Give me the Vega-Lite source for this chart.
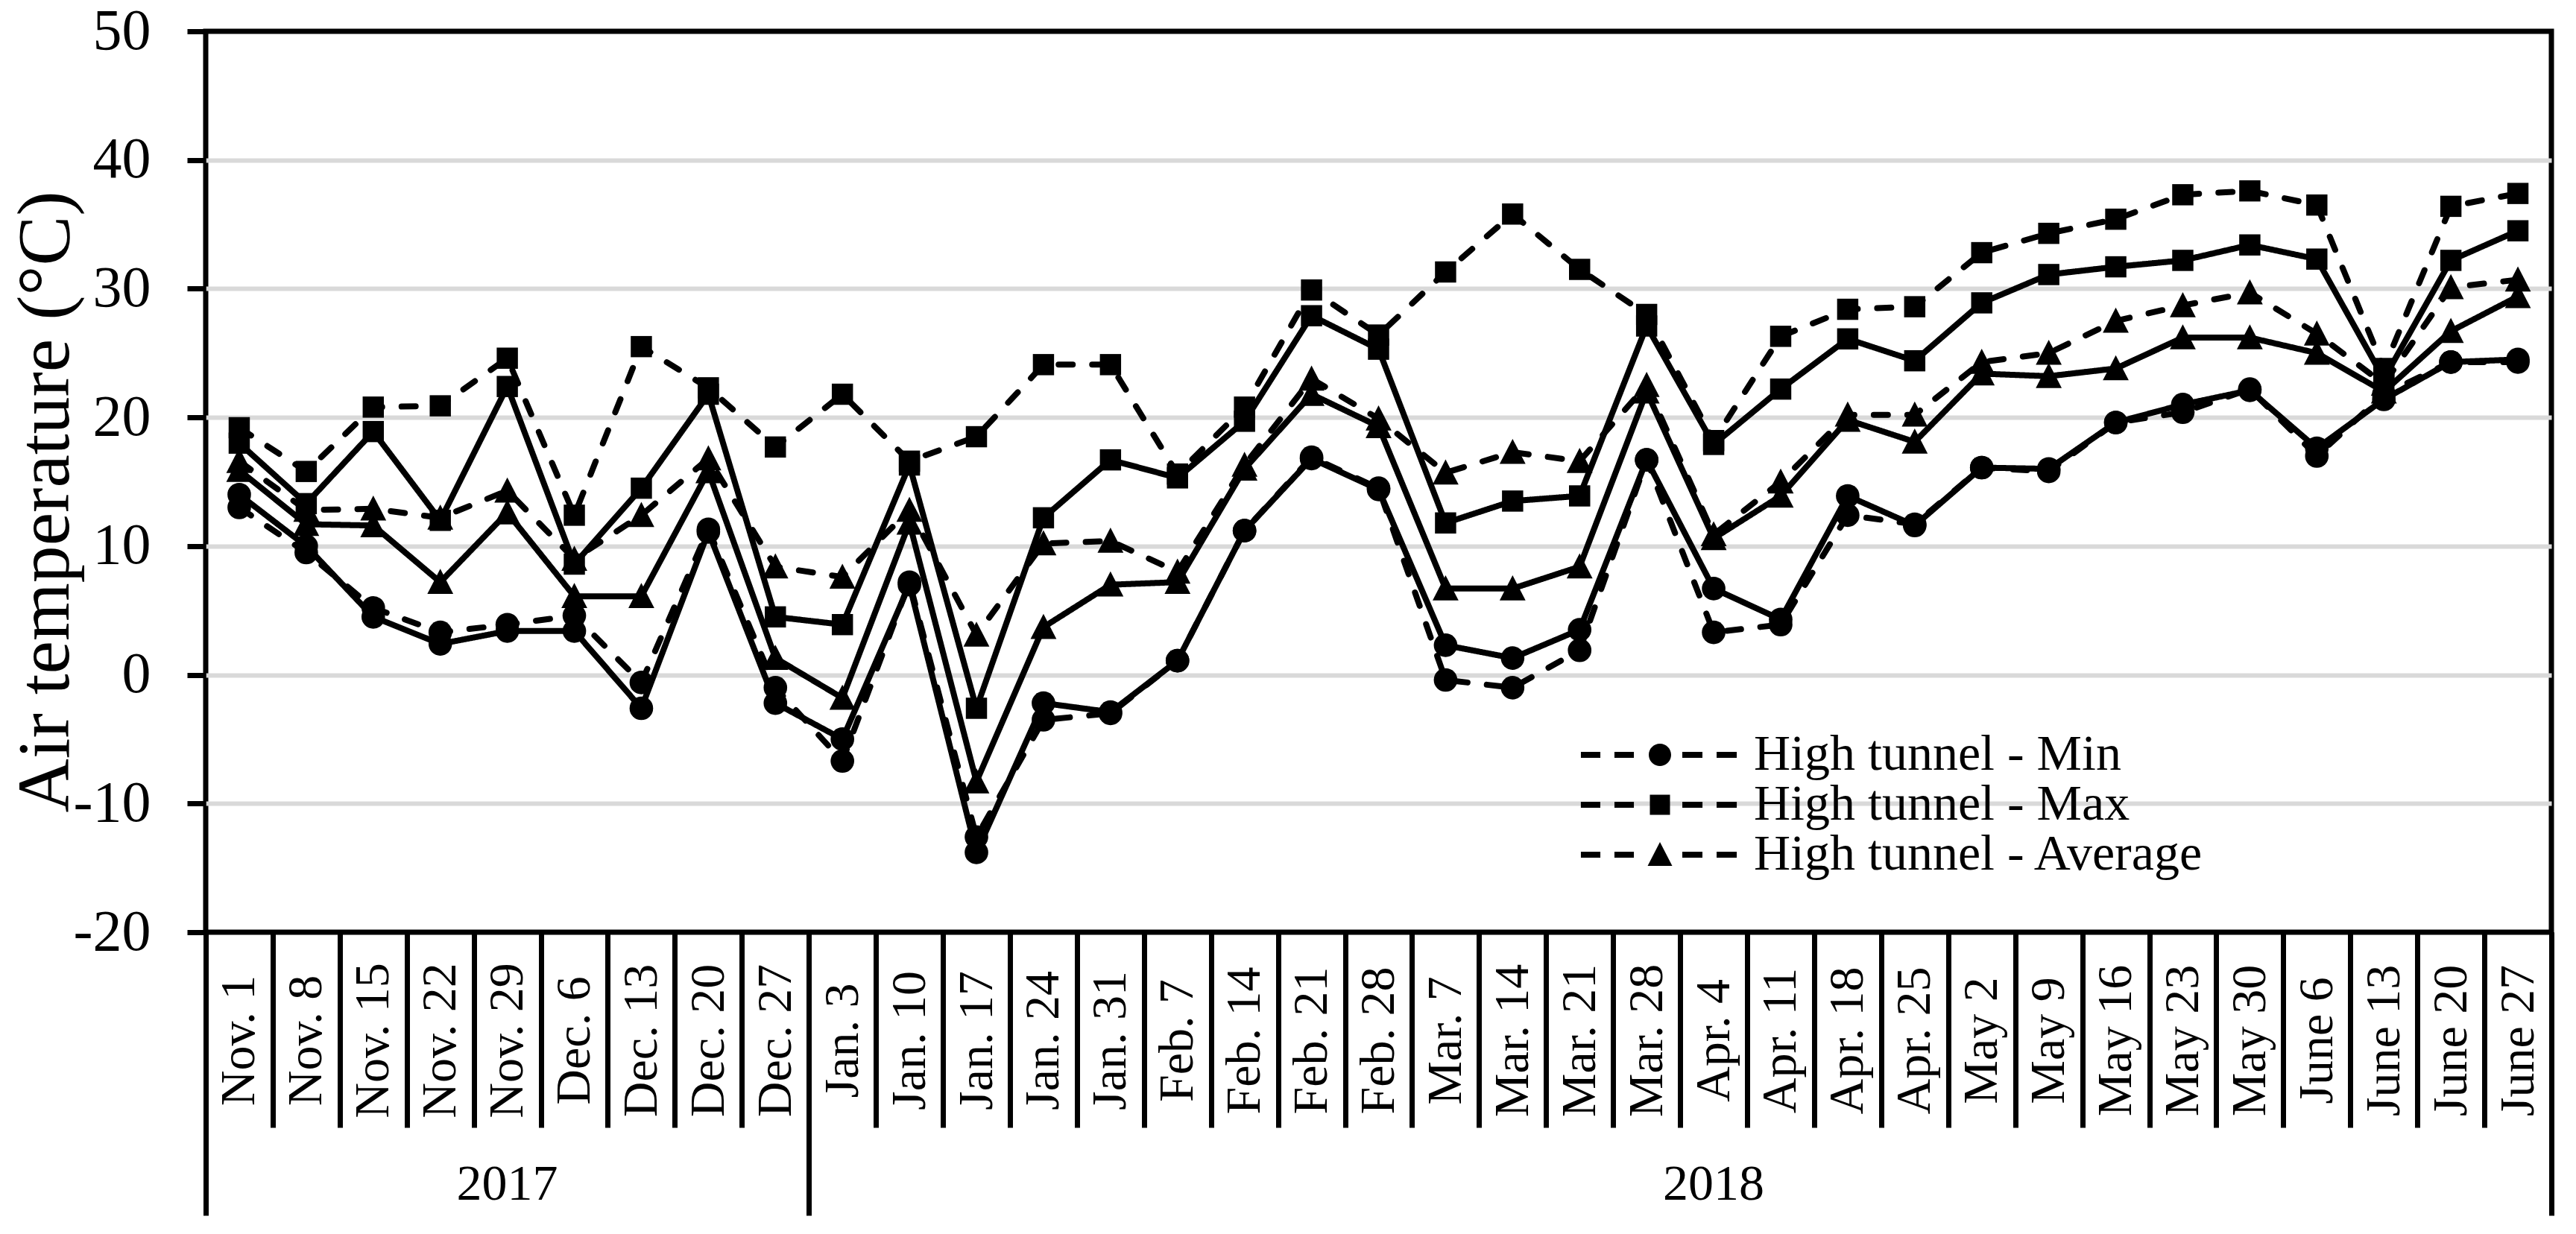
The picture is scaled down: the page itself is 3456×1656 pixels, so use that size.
{
  "$schema": "https://vega.github.io/schema/vega-lite/v6.json",
  "autosize": {"type": "none"},
  "padding": {"left": 276, "top": 42, "right": 33, "bottom": 405},
  "width": 3147,
  "height": 1209,
  "background": "white",
  "config": {
    "font": "Liberation Serif",
    "view": {"stroke": "black", "strokeWidth": 7},
    "axis": {"labelColor": "black", "titleColor": "black", "labelFont": "Liberation Serif", "titleFont": "Liberation Serif", "labelLimit": 2000},
    "legend": {"labelLimit": 2000, "orient": "none", "title": null, "padding": 0, "symbolSize": 900, "symbolStrokeWidth": 0, "symbolFillColor": "black", "labelFont": "Liberation Serif", "labelFontSize": 68, "labelColor": "black", "labelOffset": 92}
  },
  "data": {"values": [
    {"week":"Nov. 1","series":"High tunnel - Min","temp":13.0},{"week":"Nov. 1","series":"High tunnel - Max","temp":19.2},{"week":"Nov. 1","series":"High tunnel - Average","temp":16.6},{"week":"Nov. 1","series":"Open field - Min","temp":14.0},{"week":"Nov. 1","series":"Open field - Max","temp":18.0},{"week":"Nov. 1","series":"Open field - Average","temp":15.9},
    {"week":"Nov. 8","series":"High tunnel - Min","temp":9.5},{"week":"Nov. 8","series":"High tunnel - Max","temp":15.8},{"week":"Nov. 8","series":"High tunnel - Average","temp":12.8},{"week":"Nov. 8","series":"Open field - Min","temp":10.0},{"week":"Nov. 8","series":"Open field - Max","temp":13.3},{"week":"Nov. 8","series":"Open field - Average","temp":11.7},
    {"week":"Nov. 15","series":"High tunnel - Min","temp":5.2},{"week":"Nov. 15","series":"High tunnel - Max","temp":20.8},{"week":"Nov. 15","series":"High tunnel - Average","temp":12.9},{"week":"Nov. 15","series":"Open field - Min","temp":4.5},{"week":"Nov. 15","series":"Open field - Max","temp":18.9},{"week":"Nov. 15","series":"Open field - Average","temp":11.6},
    {"week":"Nov. 22","series":"High tunnel - Min","temp":3.3},{"week":"Nov. 22","series":"High tunnel - Max","temp":20.9},{"week":"Nov. 22","series":"High tunnel - Average","temp":12.2},{"week":"Nov. 22","series":"Open field - Min","temp":2.4},{"week":"Nov. 22","series":"Open field - Max","temp":12.0},{"week":"Nov. 22","series":"Open field - Average","temp":7.2},
    {"week":"Nov. 29","series":"High tunnel - Min","temp":3.9},{"week":"Nov. 29","series":"High tunnel - Max","temp":24.6},{"week":"Nov. 29","series":"High tunnel - Average","temp":14.3},{"week":"Nov. 29","series":"Open field - Min","temp":3.4},{"week":"Nov. 29","series":"Open field - Max","temp":22.4},{"week":"Nov. 29","series":"Open field - Average","temp":12.6},
    {"week":"Dec. 6","series":"High tunnel - Min","temp":4.6},{"week":"Dec. 6","series":"High tunnel - Max","temp":12.4},{"week":"Dec. 6","series":"High tunnel - Average","temp":9.0},{"week":"Dec. 6","series":"Open field - Min","temp":3.4},{"week":"Dec. 6","series":"Open field - Max","temp":8.6},{"week":"Dec. 6","series":"Open field - Average","temp":6.1},
    {"week":"Dec. 13","series":"High tunnel - Min","temp":-0.6},{"week":"Dec. 13","series":"High tunnel - Max","temp":25.5},{"week":"Dec. 13","series":"High tunnel - Average","temp":12.4},{"week":"Dec. 13","series":"Open field - Min","temp":-2.6},{"week":"Dec. 13","series":"Open field - Max","temp":14.5},{"week":"Dec. 13","series":"Open field - Average","temp":6.1},
    {"week":"Dec. 20","series":"High tunnel - Min","temp":11.3},{"week":"Dec. 20","series":"High tunnel - Max","temp":22.3},{"week":"Dec. 20","series":"High tunnel - Average","temp":16.8},{"week":"Dec. 20","series":"Open field - Min","temp":11.1},{"week":"Dec. 20","series":"Open field - Max","temp":21.8},{"week":"Dec. 20","series":"Open field - Average","temp":15.8},
    {"week":"Dec. 27","series":"High tunnel - Min","temp":-1.0},{"week":"Dec. 27","series":"High tunnel - Max","temp":17.7},{"week":"Dec. 27","series":"High tunnel - Average","temp":8.4},{"week":"Dec. 27","series":"Open field - Min","temp":-2.2},{"week":"Dec. 27","series":"Open field - Max","temp":4.5},{"week":"Dec. 27","series":"Open field - Average","temp":1.3},
    {"week":"Jan. 3","series":"High tunnel - Min","temp":-6.7},{"week":"Jan. 3","series":"High tunnel - Max","temp":21.8},{"week":"Jan. 3","series":"High tunnel - Average","temp":7.6},{"week":"Jan. 3","series":"Open field - Min","temp":-5.0},{"week":"Jan. 3","series":"Open field - Max","temp":3.9},{"week":"Jan. 3","series":"Open field - Average","temp":-1.8},
    {"week":"Jan. 10","series":"High tunnel - Min","temp":7.2},{"week":"Jan. 10","series":"High tunnel - Max","temp":16.6},{"week":"Jan. 10","series":"High tunnel - Average","temp":12.8},{"week":"Jan. 10","series":"Open field - Min","temp":7.0},{"week":"Jan. 10","series":"Open field - Max","temp":16.3},{"week":"Jan. 10","series":"Open field - Average","temp":11.8},
    {"week":"Jan. 17","series":"High tunnel - Min","temp":-12.6},{"week":"Jan. 17","series":"High tunnel - Max","temp":18.5},{"week":"Jan. 17","series":"High tunnel - Average","temp":3.1},{"week":"Jan. 17","series":"Open field - Min","temp":-13.8},{"week":"Jan. 17","series":"Open field - Max","temp":-2.6},{"week":"Jan. 17","series":"Open field - Average","temp":-8.3},
    {"week":"Jan. 24","series":"High tunnel - Min","temp":-3.5},{"week":"Jan. 24","series":"High tunnel - Max","temp":24.1},{"week":"Jan. 24","series":"High tunnel - Average","temp":10.2},{"week":"Jan. 24","series":"Open field - Min","temp":-2.2},{"week":"Jan. 24","series":"Open field - Max","temp":12.2},{"week":"Jan. 24","series":"Open field - Average","temp":3.7},
    {"week":"Jan. 31","series":"High tunnel - Min","temp":-3.0},{"week":"Jan. 31","series":"High tunnel - Max","temp":24.1},{"week":"Jan. 31","series":"High tunnel - Average","temp":10.4},{"week":"Jan. 31","series":"Open field - Min","temp":-2.9},{"week":"Jan. 31","series":"Open field - Max","temp":16.7},{"week":"Jan. 31","series":"Open field - Average","temp":7.0},
    {"week":"Feb. 7","series":"High tunnel - Min","temp":1.1},{"week":"Feb. 7","series":"High tunnel - Max","temp":15.6},{"week":"Feb. 7","series":"High tunnel - Average","temp":8.0},{"week":"Feb. 7","series":"Open field - Min","temp":1.1},{"week":"Feb. 7","series":"Open field - Max","temp":15.3},{"week":"Feb. 7","series":"Open field - Average","temp":7.2},
    {"week":"Feb. 14","series":"High tunnel - Min","temp":11.2},{"week":"Feb. 14","series":"High tunnel - Max","temp":20.8},{"week":"Feb. 14","series":"High tunnel - Average","temp":16.3},{"week":"Feb. 14","series":"Open field - Min","temp":11.2},{"week":"Feb. 14","series":"Open field - Max","temp":19.7},{"week":"Feb. 14","series":"Open field - Average","temp":16.0},
    {"week":"Feb. 21","series":"High tunnel - Min","temp":16.9},{"week":"Feb. 21","series":"High tunnel - Max","temp":29.9},{"week":"Feb. 21","series":"High tunnel - Average","temp":23.0},{"week":"Feb. 21","series":"Open field - Min","temp":16.8},{"week":"Feb. 21","series":"Open field - Max","temp":27.9},{"week":"Feb. 21","series":"Open field - Average","temp":21.8},
    {"week":"Feb. 28","series":"High tunnel - Min","temp":14.5},{"week":"Feb. 28","series":"High tunnel - Max","temp":26.4},{"week":"Feb. 28","series":"High tunnel - Average","temp":19.9},{"week":"Feb. 28","series":"Open field - Min","temp":14.4},{"week":"Feb. 28","series":"Open field - Max","temp":25.3},{"week":"Feb. 28","series":"Open field - Average","temp":19.3},
    {"week":"Mar. 7","series":"High tunnel - Min","temp":-0.4},{"week":"Mar. 7","series":"High tunnel - Max","temp":31.3},{"week":"Mar. 7","series":"High tunnel - Average","temp":15.7},{"week":"Mar. 7","series":"Open field - Min","temp":2.3},{"week":"Mar. 7","series":"Open field - Max","temp":11.8},{"week":"Mar. 7","series":"Open field - Average","temp":6.7},
    {"week":"Mar. 14","series":"High tunnel - Min","temp":-1.0},{"week":"Mar. 14","series":"High tunnel - Max","temp":35.8},{"week":"Mar. 14","series":"High tunnel - Average","temp":17.3},{"week":"Mar. 14","series":"Open field - Min","temp":1.3},{"week":"Mar. 14","series":"Open field - Max","temp":13.5},{"week":"Mar. 14","series":"Open field - Average","temp":6.7},
    {"week":"Mar. 21","series":"High tunnel - Min","temp":1.9},{"week":"Mar. 21","series":"High tunnel - Max","temp":31.5},{"week":"Mar. 21","series":"High tunnel - Average","temp":16.6},{"week":"Mar. 21","series":"Open field - Min","temp":3.5},{"week":"Mar. 21","series":"Open field - Max","temp":13.9},{"week":"Mar. 21","series":"Open field - Average","temp":8.4},
    {"week":"Mar. 28","series":"High tunnel - Min","temp":16.7},{"week":"Mar. 28","series":"High tunnel - Max","temp":28.0},{"week":"Mar. 28","series":"High tunnel - Average","temp":22.5},{"week":"Mar. 28","series":"Open field - Min","temp":16.7},{"week":"Mar. 28","series":"Open field - Max","temp":27.1},{"week":"Mar. 28","series":"Open field - Average","temp":22.0},
    {"week":"Apr. 4","series":"High tunnel - Min","temp":3.3},{"week":"Apr. 4","series":"High tunnel - Max","temp":18.2},{"week":"Apr. 4","series":"High tunnel - Average","temp":10.9},{"week":"Apr. 4","series":"Open field - Min","temp":6.7},{"week":"Apr. 4","series":"Open field - Max","temp":17.9},{"week":"Apr. 4","series":"Open field - Average","temp":10.6},
    {"week":"Apr. 11","series":"High tunnel - Min","temp":3.9},{"week":"Apr. 11","series":"High tunnel - Max","temp":26.3},{"week":"Apr. 11","series":"High tunnel - Average","temp":15.0},{"week":"Apr. 11","series":"Open field - Min","temp":4.3},{"week":"Apr. 11","series":"Open field - Max","temp":22.2},{"week":"Apr. 11","series":"Open field - Average","temp":13.9},
    {"week":"Apr. 18","series":"High tunnel - Min","temp":12.4},{"week":"Apr. 18","series":"High tunnel - Max","temp":28.4},{"week":"Apr. 18","series":"High tunnel - Average","temp":20.2},{"week":"Apr. 18","series":"Open field - Min","temp":13.9},{"week":"Apr. 18","series":"Open field - Max","temp":26.1},{"week":"Apr. 18","series":"Open field - Average","temp":19.8},
    {"week":"Apr. 25","series":"High tunnel - Min","temp":11.7},{"week":"Apr. 25","series":"High tunnel - Max","temp":28.6},{"week":"Apr. 25","series":"High tunnel - Average","temp":20.2},{"week":"Apr. 25","series":"Open field - Min","temp":11.6},{"week":"Apr. 25","series":"Open field - Max","temp":24.4},{"week":"Apr. 25","series":"Open field - Average","temp":18.1},
    {"week":"May 2","series":"High tunnel - Min","temp":16.1},{"week":"May 2","series":"High tunnel - Max","temp":32.8},{"week":"May 2","series":"High tunnel - Average","temp":24.3},{"week":"May 2","series":"Open field - Min","temp":16.1},{"week":"May 2","series":"Open field - Max","temp":28.9},{"week":"May 2","series":"Open field - Average","temp":23.4},
    {"week":"May 9","series":"High tunnel - Min","temp":15.8},{"week":"May 9","series":"High tunnel - Max","temp":34.3},{"week":"May 9","series":"High tunnel - Average","temp":25.0},{"week":"May 9","series":"Open field - Min","temp":16.0},{"week":"May 9","series":"Open field - Max","temp":31.1},{"week":"May 9","series":"Open field - Average","temp":23.2},
    {"week":"May 16","series":"High tunnel - Min","temp":19.6},{"week":"May 16","series":"High tunnel - Max","temp":35.4},{"week":"May 16","series":"High tunnel - Average","temp":27.5},{"week":"May 16","series":"Open field - Min","temp":19.6},{"week":"May 16","series":"Open field - Max","temp":31.7},{"week":"May 16","series":"Open field - Average","temp":23.8},
    {"week":"May 23","series":"High tunnel - Min","temp":20.4},{"week":"May 23","series":"High tunnel - Max","temp":37.3},{"week":"May 23","series":"High tunnel - Average","temp":28.7},{"week":"May 23","series":"Open field - Min","temp":21.0},{"week":"May 23","series":"Open field - Max","temp":32.2},{"week":"May 23","series":"Open field - Average","temp":26.2},
    {"week":"May 30","series":"High tunnel - Min","temp":22.2},{"week":"May 30","series":"High tunnel - Max","temp":37.6},{"week":"May 30","series":"High tunnel - Average","temp":29.7},{"week":"May 30","series":"Open field - Min","temp":22.1},{"week":"May 30","series":"Open field - Max","temp":33.4},{"week":"May 30","series":"Open field - Average","temp":26.2},
    {"week":"June 6","series":"High tunnel - Min","temp":17.0},{"week":"June 6","series":"High tunnel - Max","temp":36.5},{"week":"June 6","series":"High tunnel - Average","temp":26.5},{"week":"June 6","series":"Open field - Min","temp":17.6},{"week":"June 6","series":"Open field - Max","temp":32.3},{"week":"June 6","series":"Open field - Average","temp":25.0},
    {"week":"June 13","series":"High tunnel - Min","temp":21.8},{"week":"June 13","series":"High tunnel - Max","temp":23.8},{"week":"June 13","series":"High tunnel - Average","temp":22.6},{"week":"June 13","series":"Open field - Min","temp":21.4},{"week":"June 13","series":"Open field - Max","temp":23.0},{"week":"June 13","series":"Open field - Average","temp":22.0},
    {"week":"June 20","series":"High tunnel - Min","temp":24.3},{"week":"June 20","series":"High tunnel - Max","temp":36.4},{"week":"June 20","series":"High tunnel - Average","temp":30.1},{"week":"June 20","series":"Open field - Min","temp":24.3},{"week":"June 20","series":"Open field - Max","temp":32.2},{"week":"June 20","series":"Open field - Average","temp":26.7},
    {"week":"June 27","series":"High tunnel - Min","temp":24.3},{"week":"June 27","series":"High tunnel - Max","temp":37.4},{"week":"June 27","series":"High tunnel - Average","temp":30.7},{"week":"June 27","series":"Open field - Min","temp":24.5},{"week":"June 27","series":"Open field - Max","temp":34.5},{"week":"June 27","series":"Open field - Average","temp":29.4}
  ]},
  "resolve": {"axis": {"x": "independent"}},
  "layer": [
    {
      "mark": {"type": "line", "color": "black", "strokeWidth": 8, "strokeCap": "round", "strokeJoin": "round"},
      "encoding": {
        "x": {
          "field": "week", "type": "nominal", "sort": null,
          "scale": {"type": "band", "paddingInner": 0, "paddingOuter": 0, "domain": ["Nov. 1","Nov. 8","Nov. 15","Nov. 22","Nov. 29","Dec. 6","Dec. 13","Dec. 20","Dec. 27","Jan. 3","Jan. 10","Jan. 17","Jan. 24","Jan. 31","Feb. 7","Feb. 14","Feb. 21","Feb. 28","Mar. 7","Mar. 14","Mar. 21","Mar. 28","Apr. 4","Apr. 11","Apr. 18","Apr. 25","May 2","May 9","May 16","May 23","May 30","June 6","June 13","June 20","June 27"]},
          "axis": {"orient": "bottom", "title": null, "domain": false, "grid": false, "tickBand": "extent", "tickSize": 262, "tickWidth": 7, "tickColor": "black", "labelAngle": -90, "labelAlign": "center", "labelBaseline": "middle", "labelPadding": -117, "labelFontSize": 66, "labelOverlap": false, "labelFlush": false, "labelLimit": 2000}
        },
        "y": {
          "field": "temp", "type": "quantitative",
          "scale": {"domain": [-20, 50], "nice": false, "zero": false},
          "axis": {"orient": "left", "values": [-20,-10,0,10,20,30,40,50], "labelExpr": "datum.value < 0 ? '-' + abs(datum.value) : '' + datum.value", "title": "Air temperature (°C)", "titleFontSize": 100, "titleFontWeight": "normal", "titlePadding": -14, "titleY": 631, "domain": false, "tickSize": 25, "tickWidth": 7, "tickColor": "black", "labelPadding": 49, "labelFontSize": 78, "grid": true, "gridColor": "#d9d9d9", "gridWidth": 6, "gridOpacity": {"condition": {"test": "datum.value === 50 || datum.value === -20", "value": 0}, "value": 1}}
        },
        "detail": {"field": "series"},
        "strokeDash": {
          "field": "series", "type": "nominal", "legend": null,
          "scale": {"domain": ["Open field - Min","Open field - Max","Open field - Average","High tunnel - Min","High tunnel - Max","High tunnel - Average"], "range": [[1,0],[1,0],[1,0],[19,26],[19,26],[19,26]]}
        }
      }
    },
    {
      "transform": [{"filter": {"field": "series", "oneOf": ["High tunnel - Min","High tunnel - Max","High tunnel - Average"]}}],
      "mark": {"type": "point", "filled": true, "color": "black", "opacity": 1, "size": 1000, "strokeWidth": 0},
      "encoding": {
        "x": {
          "field": "week", "type": "nominal", "sort": null,
          "scale": {"type": "band", "paddingInner": 0, "paddingOuter": 0, "domain": ["Nov. 1","Nov. 8","Nov. 15","Nov. 22","Nov. 29","Dec. 6","Dec. 13","Dec. 20","Dec. 27","Jan. 3","Jan. 10","Jan. 17","Jan. 24","Jan. 31","Feb. 7","Feb. 14","Feb. 21","Feb. 28","Mar. 7","Mar. 14","Mar. 21","Mar. 28","Apr. 4","Apr. 11","Apr. 18","Apr. 25","May 2","May 9","May 16","May 23","May 30","June 6","June 13","June 20","June 27"]},
          "axis": {"orient": "bottom", "title": null, "values": ["Nov. 1","Dec. 27","June 27"], "labels": false, "domain": false, "grid": false, "tickBand": "extent", "tickSize": 380, "tickWidth": 7, "tickColor": "black", "tickOpacity": {"condition": {"test": "datum.value === 'Nov. 1'", "value": 0}, "value": 1}}
        },
        "y": {
          "field": "temp", "type": "quantitative",
          "scale": {"domain": [-20, 50], "nice": false, "zero": false},
          "axis": {"orient": "left", "values": [-20,-10,0,10,20,30,40,50], "labelExpr": "datum.value < 0 ? '-' + abs(datum.value) : '' + datum.value", "title": "Air temperature (°C)", "titleFontSize": 100, "titleFontWeight": "normal", "titlePadding": -14, "titleY": 631, "domain": false, "tickSize": 25, "tickWidth": 7, "tickColor": "black", "labelPadding": 49, "labelFontSize": 78, "grid": true, "gridColor": "#d9d9d9", "gridWidth": 6, "gridOpacity": {"condition": {"test": "datum.value === 50 || datum.value === -20", "value": 0}, "value": 1}}
        },
        "shape": {
          "field": "series", "type": "nominal", "legend": null,
          "scale": {"domain": ["High tunnel - Min","Open field - Min","High tunnel - Max","Open field - Max","High tunnel - Average","Open field - Average"], "range": ["circle","circle","M-0.9,-0.9H0.9V0.9H-0.9Z","M-0.9,-0.9H0.9V0.9H-0.9Z","M0,-1.13L1.1,1L-1.1,1Z","M0,-1.13L1.1,1L-1.1,1Z"]}
        },
        "opacity": {
          "field": "series", "type": "nominal",
          "scale": {"type": "ordinal", "domain": ["High tunnel - Min","High tunnel - Max","High tunnel - Average","Open field - Min","Open field - Max","Open field - Average"], "range": [1,1,1,1,1,1]},
          "legend": {"legendX": 1917, "legendY": 937, "values": ["High tunnel - Min"], "symbolType": "M-7.07,-0.27H-5.33V0.27H-7.07Z M-4.07,-0.27H-2.33V0.27H-4.07Z M2,-0.27H3.8V0.27H2Z M5.07,-0.27H6.87V0.27H5.07Z M1,0A1,1,0,1,1,-1,0A1,1,0,1,1,1,0Z"}
        },
        "size": {
          "field": "series", "type": "nominal",
          "scale": {"type": "ordinal", "domain": ["High tunnel - Max","High tunnel - Min","High tunnel - Average","Open field - Min","Open field - Max","Open field - Average"], "range": [1000,1000,1000,1000,1000,1000]},
          "legend": {"legendX": 1917, "legendY": 1004, "values": ["High tunnel - Max"], "symbolType": "M-6.71,-0.256H-5.06V0.256H-6.71Z M-3.86,-0.256H-2.21V0.256H-3.86Z M1.9,-0.256H3.61V0.256H1.9Z M4.81,-0.256H6.52V0.256H4.81Z M-0.854,-0.854H0.854V0.854H-0.854Z"}
        },
        "strokeWidth": {
          "field": "series", "type": "nominal",
          "scale": {"type": "ordinal", "domain": ["High tunnel - Average","High tunnel - Min","High tunnel - Max","Open field - Min","Open field - Max","Open field - Average"], "range": [0,0,0,0,0,0]},
          "legend": {"legendX": 1917, "legendY": 1071, "values": ["High tunnel - Average"], "symbolType": "M-7.07,-0.27H-5.33V0.27H-7.07Z M-4.07,-0.27H-2.33V0.27H-4.07Z M2,-0.27H3.8V0.27H2Z M5.07,-0.27H6.87V0.27H5.07Z M0,-1.13L1.1,1L-1.1,1Z"}
        }
      }
    },
    {
      "transform": [{"filter": {"field": "series", "oneOf": ["Open field - Min","Open field - Max","Open field - Average"]}}],
      "mark": {"type": "point", "filled": true, "color": "black", "opacity": 1, "size": 1000, "strokeWidth": 0},
      "encoding": {
        "x": {
          "field": "week", "type": "nominal", "sort": null,
          "scale": {"type": "band", "paddingInner": 0, "paddingOuter": 0, "domain": ["Nov. 1","Nov. 8","Nov. 15","Nov. 22","Nov. 29","Dec. 6","Dec. 13","Dec. 20","Dec. 27","Jan. 3","Jan. 10","Jan. 17","Jan. 24","Jan. 31","Feb. 7","Feb. 14","Feb. 21","Feb. 28","Mar. 7","Mar. 14","Mar. 21","Mar. 28","Apr. 4","Apr. 11","Apr. 18","Apr. 25","May 2","May 9","May 16","May 23","May 30","June 6","June 13","June 20","June 27"]},
          "axis": {"orient": "bottom", "title": null, "values": ["Nov. 29","Apr. 4"], "labelExpr": "datum.value === 'Nov. 29' ? '2017' : '2018'", "ticks": false, "tickSize": 0, "domain": false, "grid": false, "labelAngle": 0, "labelAlign": "center", "labelBaseline": "middle", "labelPadding": 338, "labelFontSize": 68}
        },
        "y": {
          "field": "temp", "type": "quantitative",
          "scale": {"domain": [-20, 50], "nice": false, "zero": false},
          "axis": {"orient": "left", "values": [-20,-10,0,10,20,30,40,50], "labelExpr": "datum.value < 0 ? '-' + abs(datum.value) : '' + datum.value", "title": "Air temperature (°C)", "titleFontSize": 100, "titleFontWeight": "normal", "titlePadding": -14, "titleY": 631, "domain": false, "tickSize": 25, "tickWidth": 7, "tickColor": "black", "labelPadding": 49, "labelFontSize": 78, "grid": true, "gridColor": "#d9d9d9", "gridWidth": 6, "gridOpacity": {"condition": {"test": "datum.value === 50 || datum.value === -20", "value": 0}, "value": 1}}
        },
        "shape": {
          "field": "series", "type": "nominal", "legend": null,
          "scale": {"domain": ["High tunnel - Min","Open field - Min","High tunnel - Max","Open field - Max","High tunnel - Average","Open field - Average"], "range": ["circle","circle","M-0.9,-0.9H0.9V0.9H-0.9Z","M-0.9,-0.9H0.9V0.9H-0.9Z","M0,-1.13L1.1,1L-1.1,1Z","M0,-1.13L1.1,1L-1.1,1Z"]}
        }
      }
    }
  ]
}
